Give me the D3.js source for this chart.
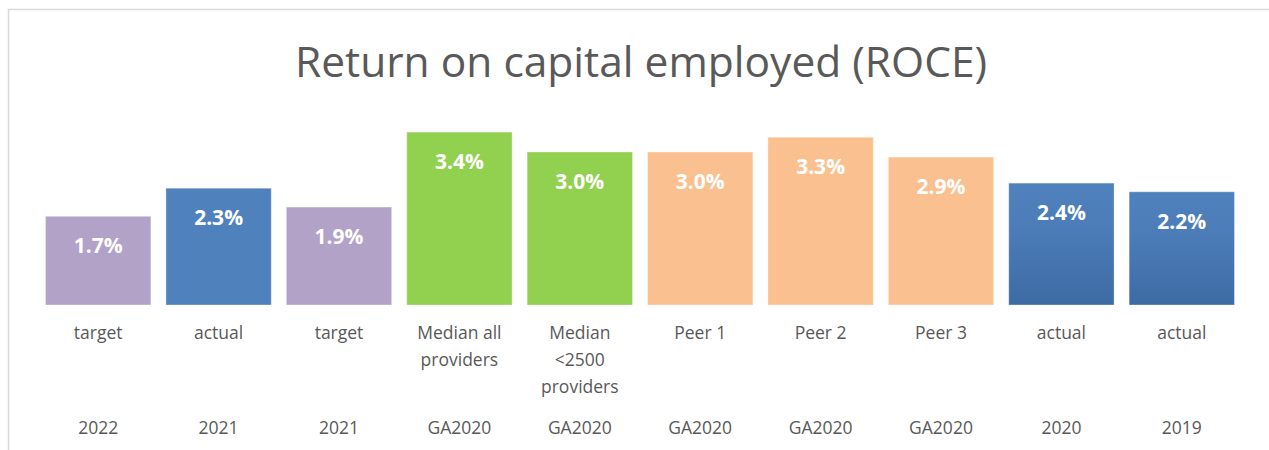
<html>
<head>
  <script src="https://cdn.jsdelivr.net/npm/d3@7"></script>
  <style>
    body { margin: 0; background: #fff; }
    text { font-family: "Open Sans", sans-serif; }
  </style>
</head>
<body>
  <div id="chart"></div>
  <script>
    const labels = ["target", "actual", "target", "Median all|providers", "Median|<2500|providers",
                    "Peer 1", "Peer 2", "Peer 3", "actual", "actual"];
    const years = ["2022", "2021", "2021", "GA2020", "GA2020", "GA2020", "GA2020", "GA2020", "2020", "2019"];
    const values = [1.74, 2.29, 1.92, 3.39, 3.0, 3.0, 3.29, 2.9, 2.39, 2.22];
    const groups = ["target", "actual", "target", "median", "median", "peer", "peer", "peer", "actualOld", "actualOld"];

    const width = 1269, height = 450;
    const fills = {target: "#b3a2c7", actual: "#4f81bd", median: "#92d050", peer: "#fac090", actualOld: "url(#blueGrad)"};

    const svg = d3.select("#chart").append("svg")
      .attr("width", width).attr("height", height);

    const grad = svg.append("defs").append("linearGradient")
      .attr("id", "blueGrad").attr("x1", 0).attr("y1", 0).attr("x2", 0).attr("y2", 1);
    grad.append("stop").attr("offset", "0%").attr("stop-color", "#4f81bd");
    grad.append("stop").attr("offset", "35%").attr("stop-color", "#4c7db8");
    grad.append("stop").attr("offset", "100%").attr("stop-color", "#3d6ba4");

    // chart frame (top and left edges visible)
    svg.append("path")
      .attr("d", `M8.5,${height} V9.5 H${width}`)
      .attr("fill", "none").attr("stroke", "#d9d9d9").attr("stroke-width", 1.5);

    svg.append("text")
      .attr("x", 641).attr("y", 77)
      .attr("text-anchor", "middle")
      .attr("font-size", 42.5)
      .attr("fill", "#595959")
      .text("Return on capital employed (ROCE)");

    const x = d3.scaleBand()
      .domain(d3.range(values.length))
      .range([38, 1242])
      .paddingInner(0.125)
      .paddingOuter(0.0625);

    const y = d3.scaleLinear().domain([0, 4]).range([305, 101]);

    svg.append("g").selectAll("rect")
      .data(values)
      .join("rect")
      .attr("x", (d, i) => x(i))
      .attr("y", d => y(d))
      .attr("width", x.bandwidth())
      .attr("height", d => y(0) - y(d))
      .attr("fill", (d, i) => fills[groups[i]])
      .attr("stroke", "#ffffff")
      .attr("stroke-opacity", 0.35)
      .attr("stroke-width", 1);

    svg.append("g").selectAll("text")
      .data(values)
      .join("text")
      .attr("x", (d, i) => x(i) + x.bandwidth() / 2)
      .attr("y", d => y(d) + 37)
      .attr("text-anchor", "middle")
      .attr("font-size", 21)
      .attr("font-weight", "bold")
      .attr("fill", "#ffffff")
      .text(d => d3.format(".1f")(d) + "%");

    const cat = svg.append("g").selectAll("text")
      .data(labels)
      .join("text")
      .attr("x", (d, i) => x(i) + x.bandwidth() / 2)
      .attr("y", 339)
      .attr("text-anchor", "middle")
      .attr("font-size", 17.5)
      .attr("fill", "#595959");
    cat.selectAll("tspan")
      .data(d => d.split("|"))
      .join("tspan")
      .attr("x", function() { return d3.select(this.parentNode).attr("x"); })
      .attr("dy", (d, j) => j === 0 ? 0 : 27)
      .text(d => d);

    svg.append("g").selectAll("text")
      .data(years)
      .join("text")
      .attr("x", (d, i) => x(i) + x.bandwidth() / 2)
      .attr("y", 434)
      .attr("text-anchor", "middle")
      .attr("font-size", 17.5)
      .attr("fill", "#595959")
      .text(d => d);
  </script>
</body>
</html>
